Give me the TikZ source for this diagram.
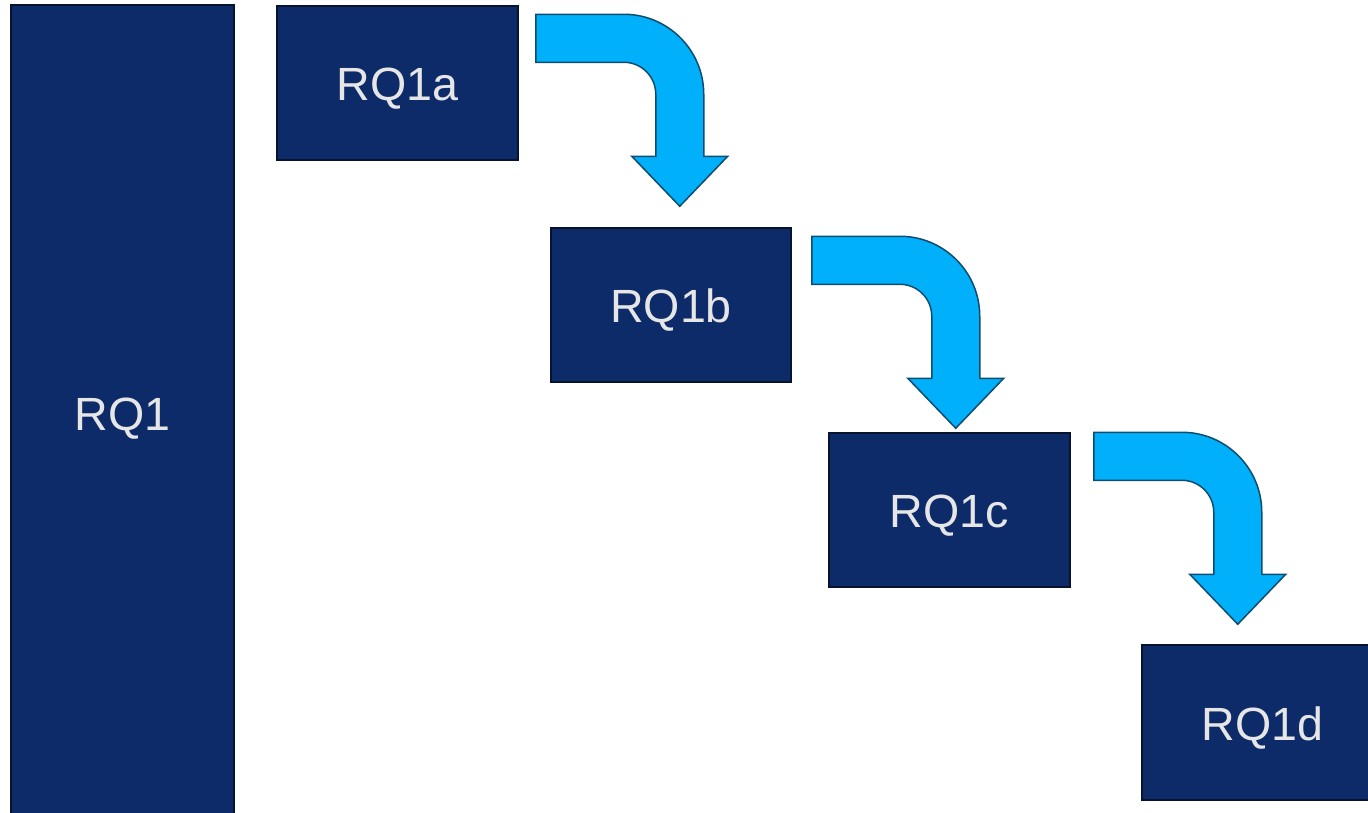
\documentclass[tikz,border=0pt]{standalone}
\usepackage{fontspec}
\setmainfont{Liberation Sans}
\usetikzlibrary{calc}
\definecolor{navy}{HTML}{0E2B69}
\definecolor{navyedge}{HTML}{08142F}
\definecolor{sky}{HTML}{00B0FA}
\definecolor{skyedge}{HTML}{0F4C6E}
\definecolor{txt}{HTML}{E6E6E6}
\begin{document}
\begin{tikzpicture}[x=1pt,y=-1pt,
  box/.style={draw=navyedge, line width=1.5pt, fill=navy, text=txt,
    font=\fontsize{46.6}{56}\selectfont, inner sep=0pt, anchor=center,
    text height=35.4pt, text depth=0pt},
  bentarrow/.pic={
    \draw[fill=sky, draw=skyedge, line width=1.5pt, line join=miter]
      (0,0) -- (88,0) arc[start angle=270,end angle=360,radius=80]
      -- (168,142) -- (192,142) -- (144,192) -- (96,142) -- (120,142)
      -- (120,80) arc[start angle=0,end angle=-90,radius=32]
      -- (0,48) -- cycle;
  }]
\useasboundingbox (0,0) rectangle (1368,812);
\clip (0,0) rectangle (1368,812);
\node[box, minimum width=223pt, minimum height=816pt] (rq1) at (122.5,413) {RQ1};
\node[box, minimum width=241pt, minimum height=154pt] (rq1a) at (397.5,83) {RQ1a};
\node[box, minimum width=240pt, minimum height=154pt] (rq1b) at (671,305) {RQ1b};
\node[box, minimum width=241pt, minimum height=154pt] (rq1c) at (949.5,510) {RQ1c};
\node[box, minimum width=241pt, minimum height=155pt] (rq1d) at (1262.5,722.5) {RQ1d};
\pic at ($(rq1a.north east)+(17,9)$) {bentarrow};
\pic at ($(rq1b.north east)+(20,9)$) {bentarrow};
\pic at ($(rq1c.north east)+(23,0)$) {bentarrow};
\end{tikzpicture}
\end{document}
